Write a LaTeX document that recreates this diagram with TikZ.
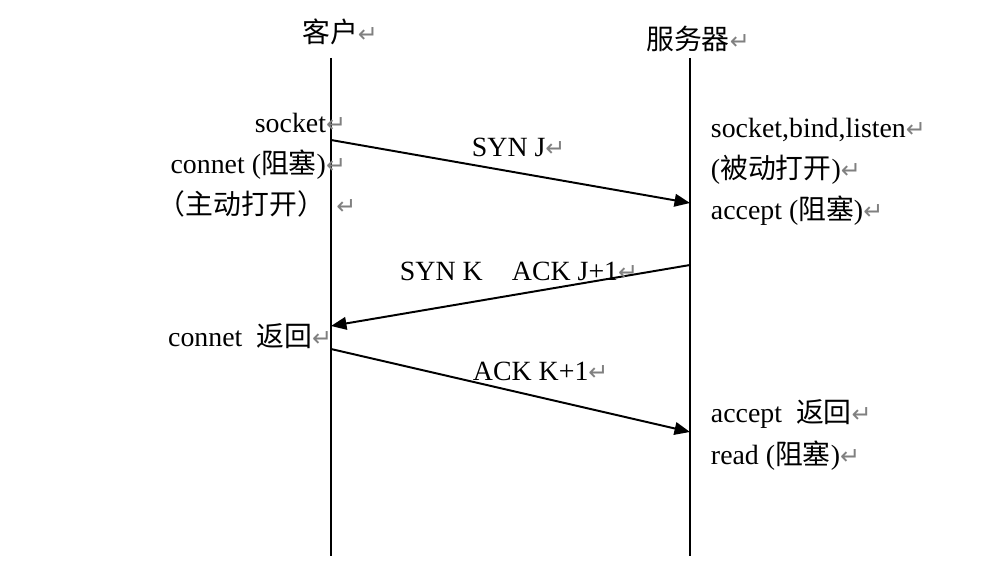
\documentclass[tikz,border=0pt]{standalone}
\usepackage{fontspec}
\setmainfont{Liberation Serif}
\newfontfamily\cjk{Noto Sans CJK SC}
\newfontfamily\symf{DejaVu Sans}
\usetikzlibrary{arrows.meta}

\newcommand\zh[1]{{\cjk #1}}
\newcommand\pmk[1][0pt]{\rlap{\hspace{#1}\textcolor{gray}{\symf\fontsize{17}{17}\selectfont ↵}}}

\begin{document}
\begin{tikzpicture}[x=0.025cm, y=-0.025cm, line width=1.4pt,%
	every node/.style={font=\fontsize{19.8}{24}\selectfont, inner sep=0pt},
	msg/.style={-{Triangle[length=11pt, width=9pt]}},
	lt/.style={anchor=base east},
	rt/.style={anchor=base west}]
	\useasboundingbox (0,0) rectangle (988,570);

	\node (client) [anchor=base] at (330,43) {\zh{客户}\pmk};
	\node (server) [anchor=base] at (688,50) {\zh{服务器}\pmk};

	\coordinate (cTop) at (331,58);
	\coordinate (cBot) at (331,556);
	\coordinate (sTop) at (690,58);
	\coordinate (sBot) at (690,556);
	\draw (cTop) -- (cBot);
	\draw (sTop) -- (sBot);

	\coordinate (c1) at (331,140);
	\coordinate (s1) at (690,203);
	\coordinate (s2) at (690,265);
	\coordinate (c2) at (331,326);
	\coordinate (c3) at (331,349);
	\coordinate (s3) at (690,432);

	\path[msg]
	(c1) edge (s1)
	(s2) edge (c2)
	(c3) edge (s3);

	\node (syn) [rt] at (471,157) {SYN J\pmk};
	\node (synack) [rt] at (399,281) {SYN K\hspace{1.05em}ACK J+1\pmk};
	\node (ack) [rt] at (472,381) {ACK K+1\pmk};

	\node (sock) [lt] at (327,133) {socket\pmk};
	\node (conn) [lt] at (327,174) {connet (\zh{阻塞})\pmk};
	\node (active) [lt] at (326,215) {\zh{（主动打开）}\pmk[8pt]};
	\node (connret) [lt] at (313,347) {connet\ \ \zh{返回}\pmk};

	\node (listen) [rt] at (710,138) {socket,bind,listen\pmk};
	\node (passive) [rt] at (710,179) {(\zh{被动打开})\pmk};
	\node (accblk) [rt] at (710,220) {accept (\zh{阻塞})\pmk};
	\node (accret) [rt] at (710,423) {accept\ \ \zh{返回}\pmk};
	\node (read) [rt] at (710,465) {read (\zh{阻塞})\pmk};
\end{tikzpicture}
\end{document}
